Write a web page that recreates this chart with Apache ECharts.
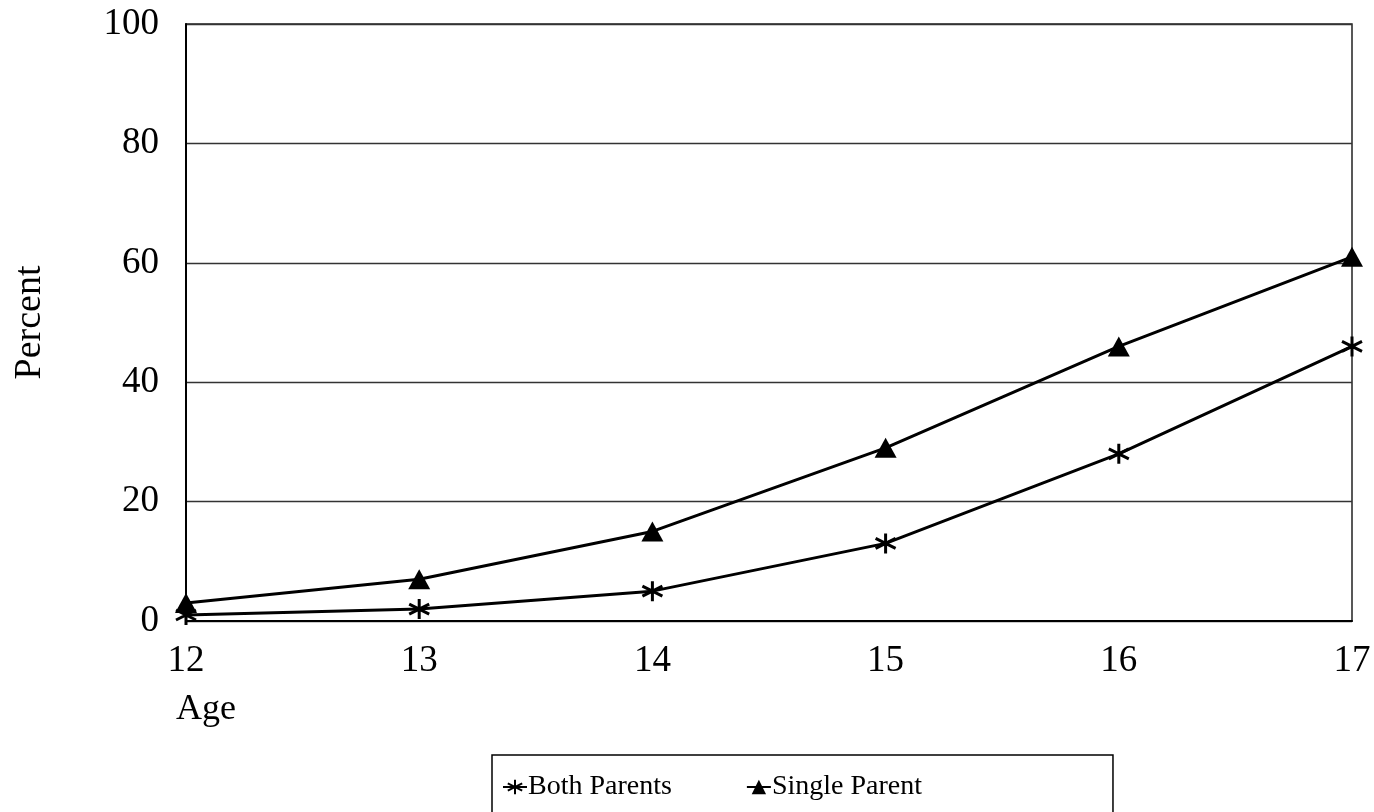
<!DOCTYPE html>
<html>
<head>
<meta charset="utf-8">
<script src="https://cdn.jsdelivr.net/npm/echarts@6/dist/echarts.min.js"></script>
<style>
  html, body { margin: 0; padding: 0; background: #fff; }
  #chart { width: 1374px; height: 812px; }
</style>
</head>
<body>
<div id="chart"></div>
<script>
// Age categories along the x axis
const ages = ['12', '13', '14', '15', '16', '17'];
// Percent by family structure
const bothParents = [1, 2, 5, 13, 28, 46];
const singleParent = [3, 7, 15, 29, 46, 61];

const FONT = '"Liberation Serif", "Times New Roman", serif';
// Asterisk marker drawn as three crossing strokes
const STAR = 'path://M0,-10L0,10M-8.66,-5L8.66,5M-8.66,5L8.66,-5';

const chart = echarts.init(document.getElementById('chart'));
chart.setOption({
  animation: false,
  backgroundColor: '#fff',
  grid: {
    left: 186, right: 22, top: 24, bottom: 191,
    show: true, borderColor: '#222', borderWidth: 1.5
  },
  xAxis: {
    type: 'category',
    data: ages,
    boundaryGap: false,
    axisLine: { lineStyle: { color: '#000', width: 2 } },
    axisTick: { show: false },
    axisLabel: { color: '#000', fontFamily: FONT, fontSize: 37, margin: 22 },
    splitLine: { show: false }
  },
  yAxis: {
    type: 'value',
    min: 0, max: 100, interval: 20,
    name: 'Percent',
    nameLocation: 'middle',
    nameRotate: 90,
    nameGap: 137,
    nameTextStyle: { color: '#000', fontFamily: FONT, fontSize: 38 },
    axisLine: { show: true, lineStyle: { color: '#000', width: 2 } },
    axisTick: { show: false },
    axisLabel: { color: '#000', fontFamily: FONT, fontSize: 37, margin: 27 },
    splitLine: { lineStyle: { color: '#333', width: 1.4 } }
  },
  legend: {
    left: 492, top: 755,
    itemGap: 74,
    itemWidth: 24, itemHeight: 18,
    padding: [18, 191, 40, 10],
    borderColor: '#000', borderWidth: 1.5,
    textStyle: { color: '#000', fontFamily: FONT, fontSize: 28, padding: [0, 0, 0, -4] },
    data: ['Both Parents', 'Single Parent']
  },
  graphic: [{
    type: 'text', left: 176, top: 692,
    style: { text: 'Age', fill: '#000', font: '36px ' + FONT }
  }],
  series: [
    {
      name: 'Both Parents',
      type: 'line',
      data: bothParents,
      symbol: STAR,
      symbolSize: 20,
      lineStyle: { color: '#000', width: 3 },
      itemStyle: { color: 'rgba(0,0,0,0)', borderColor: '#000', borderWidth: 3 }
    },
    {
      name: 'Single Parent',
      type: 'line',
      data: singleParent,
      symbol: 'triangle',
      symbolSize: [22, 20],
      lineStyle: { color: '#000', width: 3 },
      itemStyle: { color: '#000', borderColor: '#000', borderWidth: 0 }
    }
  ]
});
</script>
</body>
</html>
